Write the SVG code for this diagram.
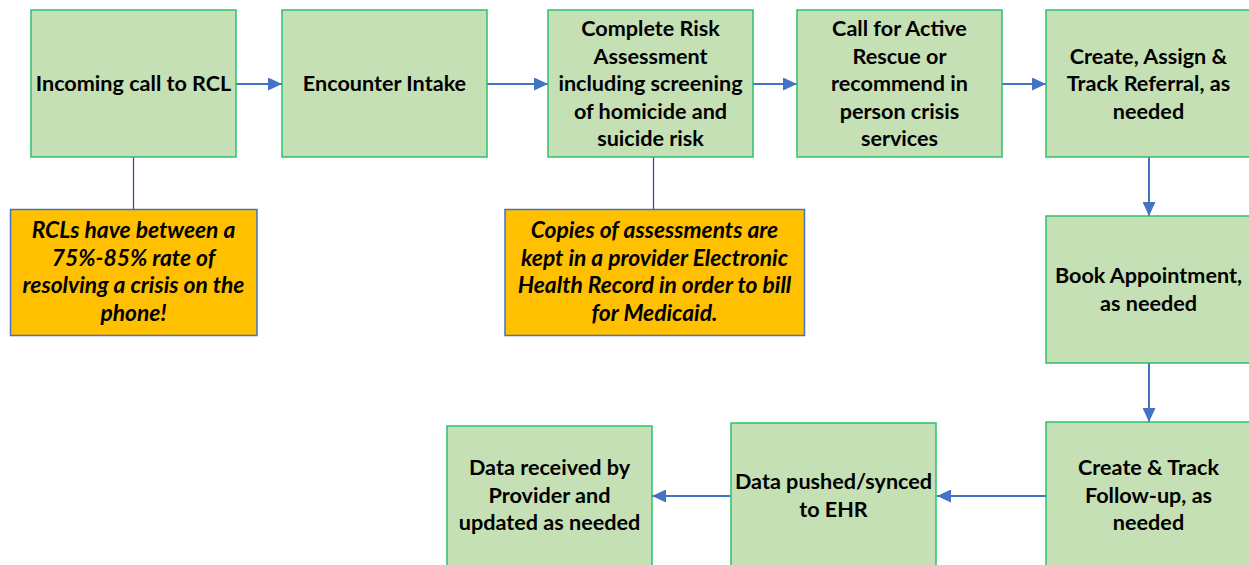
<svg xmlns="http://www.w3.org/2000/svg" width="1249" height="565" viewBox="0 0 1249 565">
<defs>
<style>
.box{fill:#C5E0B4;stroke:#2DC16C;stroke-width:1.5}
.note{fill:#FFC000;stroke:#4472C4;stroke-width:1.5}
.t{font-family:Lato,"Liberation Sans",sans-serif;font-weight:bold;font-size:21.6px;fill:#000;text-anchor:middle}
.i{font-style:italic;font-size:22.8px}
.arr{stroke:#4472C4;stroke-width:2;fill:none;marker-end:url(#ah)}
.ln{stroke:#2F5597;stroke-width:1.3;fill:none}
</style>
<marker id="ah" markerUnits="userSpaceOnUse" markerWidth="14" markerHeight="13" refX="14" refY="6.5" orient="auto">
<path d="M0,0 L14,6.5 L0,13 Z" fill="#4472C4"/>
</marker>
</defs>
<rect width="1249" height="565" fill="#fff"/>
<g id="connectors">
<line class="arr" x1="236" y1="84" x2="282" y2="84"/>
<line class="arr" x1="487" y1="84" x2="548" y2="84"/>
<line class="arr" x1="753" y1="84" x2="797" y2="84"/>
<line class="arr" x1="1002" y1="84" x2="1046" y2="84"/>
<line class="arr" x1="1149" y1="157" x2="1149" y2="216"/>
<line class="arr" x1="1149" y1="363" x2="1149" y2="422"/>
<line class="arr" x1="1046" y1="496" x2="937" y2="496"/>
<line class="arr" x1="731" y1="496" x2="652" y2="496"/>
<line class="ln" x1="133.5" y1="157" x2="133.5" y2="209"/>
<line class="ln" x1="653.5" y1="157" x2="653.5" y2="209"/>
</g>
<g id="n1"><rect class="box" x="31" y="10" width="205" height="147"/>
<text class="t" x="133.5" y="91">Incoming call to RCL</text></g>
<g id="n2"><rect class="box" x="282" y="10" width="205" height="147"/>
<text class="t" x="384.5" y="91">Encounter Intake</text></g>
<g id="n3"><rect class="box" x="548" y="10" width="205" height="147"/>
<text class="t" x="650.5"><tspan x="650.5" y="36">Complete Risk</tspan><tspan x="650.5" y="63.5">Assessment</tspan><tspan x="650.5" y="91">including screening</tspan><tspan x="650.5" y="118.5">of homicide and</tspan><tspan x="650.5" y="146">suicide risk</tspan></text></g>
<g id="n4"><rect class="box" x="797" y="10" width="205" height="147"/>
<text class="t" x="899.5"><tspan x="899.5" y="36">Call for Active</tspan><tspan x="899.5" y="63.5">Rescue or</tspan><tspan x="899.5" y="91">recommend in</tspan><tspan x="899.5" y="118.5">person crisis</tspan><tspan x="899.5" y="146">services</tspan></text></g>
<g id="n5"><rect class="box" x="1046" y="10" width="205" height="147"/>
<text class="t" x="1148.5"><tspan x="1148.5" y="63.5">Create, Assign &amp;</tspan><tspan x="1148.5" y="91">Track Referral, as</tspan><tspan x="1148.5" y="118.5">needed</tspan></text></g>
<g id="n6"><rect class="box" x="1046" y="216" width="205" height="147"/>
<text class="t" x="1148.5"><tspan x="1148.5" y="283">Book Appointment,</tspan><tspan x="1148.5" y="310.5">as needed</tspan></text></g>
<g id="n7"><rect class="box" x="1046" y="422" width="205" height="147"/>
<text class="t" x="1148.5"><tspan x="1148.5" y="475">Create &amp; Track</tspan><tspan x="1148.5" y="502.5">Follow-up, as</tspan><tspan x="1148.5" y="530">needed</tspan></text></g>
<g id="n8"><rect class="box" x="731" y="423" width="205" height="147"/>
<text class="t" x="833.5"><tspan x="833.5" y="489">Data pushed/synced</tspan><tspan x="833.5" y="516.5">to EHR</tspan></text></g>
<g id="n9"><rect class="box" x="447" y="426" width="205" height="147"/>
<text class="t" x="549.5"><tspan x="549.5" y="475">Data received by</tspan><tspan x="549.5" y="502.5">Provider and</tspan><tspan x="549.5" y="530">updated as needed</tspan></text></g>
<g id="note1"><rect class="note" x="10.5" y="209.5" width="246.5" height="126"/>
<text class="t i" x="133.5"><tspan x="133.5" y="238">RCLs have between a</tspan><tspan x="133.5" y="265.5">75%-85% rate of</tspan><tspan x="133.5" y="293">resolving a crisis on the</tspan><tspan x="133.5" y="320.5">phone!</tspan></text></g>
<g id="note2"><rect class="note" x="505" y="209.5" width="299.5" height="126"/>
<text class="t i" x="654.5"><tspan x="654.5" y="238">Copies of assessments are</tspan><tspan x="654.5" y="265.5">kept in a provider Electronic</tspan><tspan x="654.5" y="293">Health Record in order to bill</tspan><tspan x="654.5" y="320.5">for Medicaid.</tspan></text></g>
</svg>
